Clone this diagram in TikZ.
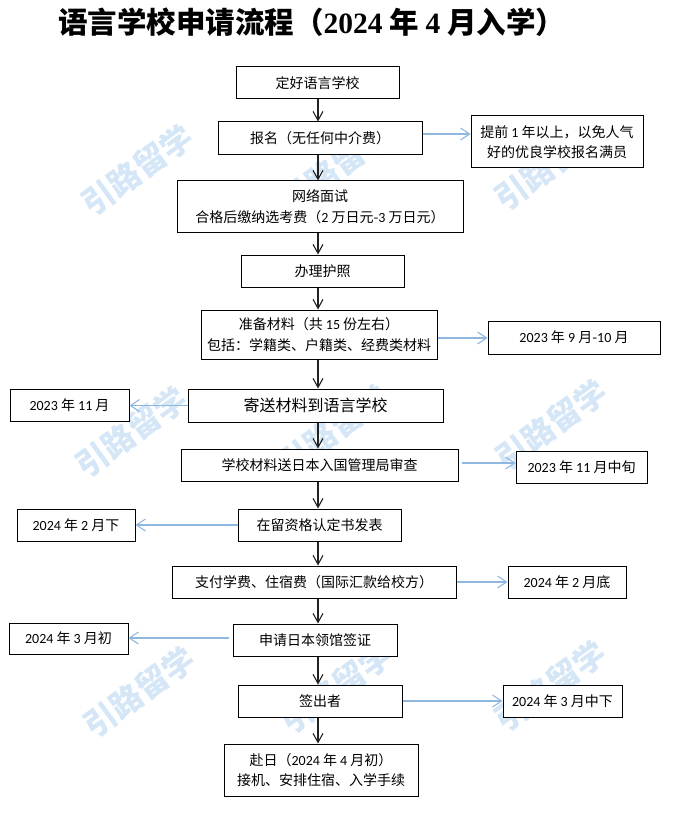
\documentclass[tikz,border=0pt]{standalone}
\usepackage{fontspec}
\setmainfont{Noto Sans CJK SC}
\newfontfamily\dg{Carlito}
\newfontfamily\tdg{Liberation Serif}
\usetikzlibrary{arrows.meta}
\definecolor{arrblue}{HTML}{8FB8E0}
\definecolor{wmblue}{HTML}{D5E6F7}
\definecolor{linegray}{HTML}{222222}
\tikzset{
  box/.style={draw=black, line width=1pt, fill=white, inner sep=0pt, align=center,
    font=\fontsize{14}{20.5}\selectfont},
  varr/.style={draw=linegray, line width=1.2pt, -{Straight Barb[length=9pt,width=10pt,line width=1.1pt]}},
  barr/.style={draw=arrblue, line width=1.8pt, -{Straight Barb[length=9pt,width=12pt,line width=1.1pt]}},
  wm/.style={text=wmblue, rotate=36, inner sep=0pt, font=\fontsize{32}{32}\selectfont\bfseries},
}
\begin{document}
\begin{tikzpicture}[x=1pt,y=-1pt]
\useasboundingbox (0,0) rectangle (676,813);
% watermarks
\node[wm] (w1) at (137,170) {引路留学};
\node[wm] (w2) at (335,168) {引路留学};
\node[wm] (w3) at (550,165) {引路留学};
\node[wm] (w4) at (131,432) {引路留学};
\node[wm] (w5) at (333,430) {引路留学};
\node[wm] (w6) at (551,425) {引路留学};
\node[wm] (w7) at (139,692) {引路留学};
\node[wm] (w8) at (336,688) {引路留学};
\node[wm] (w9) at (550,686) {引路留学};
% title
\node[anchor=west, inner sep=0pt, font=\fontsize{29.5}{30}\selectfont\bfseries] (title) at (58,22)
  {语言学校申请流程（{\tdg\bfseries 2024} 年 {\tdg\bfseries 4} 月入学）};
% main chain
\node[box, minimum width=163pt, minimum height=32pt] (b1) at (317.5,83) {定好语言学校};
\node[box, minimum width=204pt, minimum height=33pt] (b2) at (320,138.5) {报名（无任何中介费）};
\node[box, minimum width=286pt, minimum height=51pt] (b3) at (320,206.5) {网络面试\\合格后缴纳选考费（{\dg 2} 万日元-{\dg 3} 万日元）};
\node[box, minimum width=163pt, minimum height=32pt] (b4) at (322.5,271) {办理护照};
\node[box, minimum width=236pt, minimum height=49pt] (b5) at (319,334.5) {准备材料（共 {\dg 15} 份左右）\\包括：学籍类、户籍类、经费类材料};
\node[box, minimum width=255pt, minimum height=33pt, font=\fontsize{16}{20}\selectfont] (b6) at (315.5,405.5) {寄送材料到语言学校};
\node[box, minimum width=277pt, minimum height=32pt] (b7) at (319.5,465) {学校材料送日本入国管理局审查};
\node[box, minimum width=163pt, minimum height=32pt] (b8) at (319.5,525) {在留资格认定书发表};
\node[box, minimum width=284pt, minimum height=32pt] (b9) at (314,582) {支付学费、住宿费（国际汇款给校方）};
\node[box, minimum width=164pt, minimum height=32pt] (b10) at (315,640) {申请日本领馆签证};
\node[box, minimum width=164pt, minimum height=32pt] (b11) at (320,701) {签出者};
\node[box, minimum width=194pt, minimum height=52pt] (b12) at (321,770) {赴日（{\dg 2024} 年 {\dg 4} 月初）\\接机、安排住宿、入学手续};
% side boxes
\node[box, minimum width=172pt, minimum height=52pt] (s2) at (557,142) {提前 {\dg 1} 年以上，以免人气\\好的优良学校报名满员};
\node[box, minimum width=172pt, minimum height=33pt] (s5) at (574,337.5) {{\dg 2023} 年 {\dg 9} 月-{\dg 10} 月};
\node[box, minimum width=119pt, minimum height=32pt] (s6) at (69.5,405) {{\dg 2023} 年 {\dg 11} 月};
\node[box, minimum width=131pt, minimum height=32pt] (s7) at (581.5,467) {{\dg 2023} 年 {\dg 11} 月中旬};
\node[box, minimum width=118pt, minimum height=32pt] (s8) at (76,525) {{\dg 2024} 年 {\dg 2} 月下};
\node[box, minimum width=118pt, minimum height=32pt] (s9) at (567,582) {{\dg 2024} 年 {\dg 2} 月底};
\node[box, minimum width=119pt, minimum height=31pt] (s10) at (68.5,638.5) {{\dg 2024} 年 {\dg 3} 月初};
\node[box, minimum width=119pt, minimum height=32pt] (s11) at (562.5,701) {{\dg 2024} 年 {\dg 3} 月中下};
% vertical arrows
\coordinate (ax) at (318,0);
\draw[varr] (b1.south -| ax) -- (b2.north -| ax);
\draw[varr] (b2.south -| ax) -- (b3.north -| ax);
\draw[varr] (b3.south -| ax) -- (b4.north -| ax);
\draw[varr] (b4.south -| ax) -- (b5.north -| ax);
\draw[varr] (b5.south -| ax) -- (b6.north -| ax);
\draw[varr] (b6.south -| ax) -- (b7.north -| ax);
\draw[varr] (b7.south -| ax) -- (b8.north -| ax);
\draw[varr] (b8.south -| ax) -- (b9.north -| ax);
\draw[varr] (b9.south -| ax) -- (b10.north -| ax);
\draw[varr] (b10.south -| ax) -- (b11.north -| ax);
\draw[varr] (b11.south -| ax) -- (b12.north -| ax);
% side arrows
\draw[barr] ([yshift=4.5pt]b2.east) -- ([yshift=4.5pt]b2.east -| s2.west);
\draw[barr] ([yshift=-3.5pt]b5.east) -- ([yshift=-3.5pt]b5.east -| s5.west);
\draw[barr] (b6.west) -- (b6.west -| s6.east);
\draw[barr] ([xshift=3pt,yshift=2pt]b7.east) -- ([yshift=2pt]b7.east -| s7.west);
\draw[barr] (b8.west) -- (b8.west -| s8.east);
\draw[barr] (b9.east) -- (b9.east -| s9.west);
\draw[barr] ([xshift=-4pt,yshift=2pt]b10.west) -- ([yshift=2pt]b10.west -| s10.east);
\draw[barr] (b11.east) -- (b11.east -| s11.west);
\end{tikzpicture}
\end{document}
